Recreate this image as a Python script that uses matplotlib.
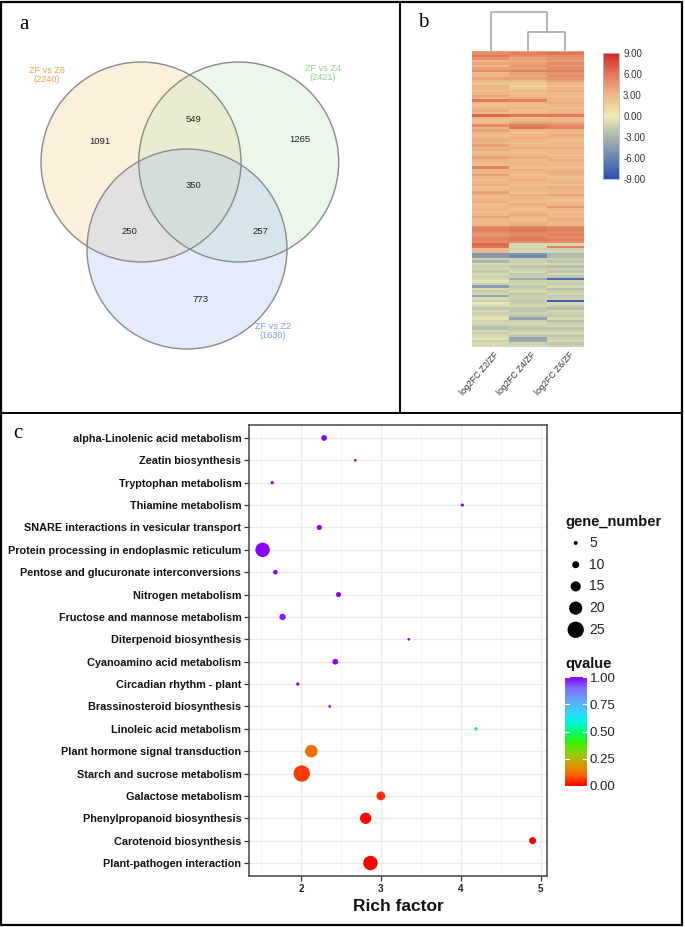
import numpy as np
import matplotlib
matplotlib.use("Agg")
import matplotlib.pyplot as plt
from matplotlib.patches import Circle, Rectangle
from matplotlib.colors import LinearSegmentedColormap, Normalize
from matplotlib.cm import ScalarMappable

plt.rcParams['font.family'] = ['Liberation Sans', 'DejaVu Sans']

# ---------------- data ----------------
# Panel a: Venn
venn_sets = ["ZF vs Z6", "ZF vs Z4", "ZF vs Z2"]
venn_totals = [2240, 2421, 1630]
venn_region_labels = ["Z6 only", "Z6&Z4", "Z4 only", "all", "Z6&Z2", "Z4&Z2", "Z2 only"]
venn_region_counts = [1091, 549, 1265, 350, 250, 257, 773]

# Panel b: heatmap (log2FC) rows top->bottom
heat_cols = ["log2FC Z2/ZF", "log2FC Z4/ZF", "log2FC Z6/ZF"]
z2 = [4, 5, 6, 5, 3, 4, 3, 4, 5, 3,
      3, 4, 3, 2, 3, 3, 2.5, 3, 4, 3,
      6, 3, 2.5, 3, 3.5, 3, 6.5, 3, 2.5, 3,
      5, 3, 4, 3, 2.5, 3, 3.5, 3, 4, 3,
      3.5, 2.5, 3, 4, 3, 3, 2.5, 5.5, 3, 3,
      4, 3, 2.5, 3, 3.5, 2.5, 3, 4, 3, 2.5,
      3, 3.5, 2.5, 3, 3, 2.5, 3, 4, 3, 3,
      3, 5, 5.5, 5, 4.5, 5, 5.5, 5, 6.5, 6,
      3, 3, -5, -4.5, -1.5, -3, -1, -1.5, -1, -2,
      -1, -1.5, -1, -0.5, -1.5, -4.5, -1, -1.5, -1, -4,
      -1, -1.5, -0.5, -1, -2, -1, -1.5, -1, -0.5, -1.5,
      -1, -2, -2.5, -1, -1.5, -1, -0.5, -1.5, -1, -1]
z4 = [4, 5.5, 5, 4, 3.5, 4, 4.5, 4, 5.5, 4,
      3.5, 4, 3, 2, 1.5, 2, 3, 2.5, 3, 3.5,
      5.5, 3, 2.5, 3, 2.5, 3, 6, 2.5, 3, 4,
      5.5, 6, 3, 2.5, 3, 3.5, 3, 2.5, 3, 3.5,
      3, 2.5, 3, 3.5, 2.5, 3, 3, 2.5, 3.5, 3,
      2.5, 3, 3.5, 3, 2.5, 3, 3, 2.5, 3.5, 3,
      3, 2.5, 3.5, 3, 2.5, 3, 3.5, 3, 2.5, 3,
      3.5, 5.5, 6, 5.5, 5, 5.5, 6, 5, -1, -1,
      -1.5, -1, -5, -5.5, -1.5, -1.5, -1, -2, -1.5, -1,
      -2, -1.5, -3.5, -1.5, -1, -2, -1.5, -1, -2, -1.5,
      -1.5, -2, -1.5, -1, -2, -2, -1.5, -2, -4, -1.5,
      -1, -1.5, -2, -1.5, -1, -2, -4, -3.5, -1.5, -1]
z6 = [4, 6, 5, 4.5, 4, 5, 4.5, 5, 5.5, 4.5,
      5, 4.5, 4, 3, 2.5, 3, 3.5, 3, 2.5, 3,
      3, 3.5, 3, 2.5, 3, 3.5, 6, 3, 3, 4,
      5, 5.5, 3, 3, 3.5, 3, 2.5, 3, 3, 3.5,
      3, 3, 2.5, 3, 3.5, 3, 3, 2.5, 3, 3.5,
      3, 2.5, 3, 3, 2.5, 3.5, 3, 3, 4, 3,
      2.5, 3, 3, 4.5, 3, 2.5, 3, 3, 3.5, 3,
      3, 5, 5.5, 5, 5.5, 5, 5.5, 5, -1, 5.5,
      -1.5, -1, -3, -2.5, -1.5, -2, -1, -2.5, -1.5, -2,
      -1, -2, -7.5, -1.5, -2, -1, -2.5, -1.5, -1, -2,
      -1.5, -8, -1, -1.5, -2.5, -1, -1.5, -2, -1, -2.5,
      -1.5, -1, -2, -1.5, -1, -2, -1.5, -1, -2, -1.5]
heat_ticks = [9, 6, 3, 0, -3, -6, -9]
dendro_heights = [0.5, 1.0]   # Z4-Z6 merge, root merge

# Panel c: KEGG enrichment
pathways = ["alpha-Linolenic acid metabolism", "Zeatin biosynthesis", "Tryptophan metabolism",
            "Thiamine metabolism", "SNARE interactions in vesicular transport",
            "Protein processing in endoplasmic reticulum", "Pentose and glucuronate interconversions",
            "Nitrogen metabolism", "Fructose and mannose metabolism", "Diterpenoid biosynthesis",
            "Cyanoamino acid metabolism", "Circadian rhythm - plant", "Brassinosteroid biosynthesis",
            "Linoleic acid metabolism", "Plant hormone signal transduction",
            "Starch and sucrose metabolism", "Galactose metabolism", "Phenylpropanoid biosynthesis",
            "Carotenoid biosynthesis", "Plant-pathogen interaction"]
rich_factor = [2.29, 2.68, 1.64, 4.02, 2.23, 1.52, 1.68, 2.47, 1.77, 3.35,
               2.43, 1.96, 2.36, 4.19, 2.13, 2.01, 3.00, 2.81, 4.90, 2.87]
gene_number = [8, 3, 4, 4, 7, 22, 6, 7, 9, 3,
               8, 4, 3, 4, 19, 25, 13, 17, 10, 22]
qvalue = [1.0, 1.0, 1.0, 1.0, 1.0, 1.0, 1.0, 1.0, 0.98, 1.0,
          1.0, 1.0, 1.0, 0.5, 0.12, 0.06, 0.05, 0.01, 0.0, 0.0]
size_levels = [5, 10, 15, 20, 25]
q_ticks = [0.0, 0.25, 0.5, 0.75, 1.0]
x_ticks = [2, 3, 4, 5]

# ---------------- figure ----------------
W, H = 685, 927
fig = plt.figure(figsize=(W / 100, H / 100), dpi=100)


def px_axes(x0, y0, x1, y1, **kw):
    return fig.add_axes([x0 / W, 1 - y1 / H, (x1 - x0) / W, (y1 - y0) / H], **kw)


PX = 0.72  # points per pixel

bg = px_axes(0, 0, W, H)
bg.set_xlim(0, W)
bg.set_ylim(H, 0)
bg.axis('off')
bg.add_patch(Rectangle((1.5, 1.5), 681, 923.5, fill=False, ec='black', lw=1.6))
bg.plot([400, 400], [1.5, 413], color='black', lw=1.4)
bg.plot([1.5, 682.5], [413, 413], color='black', lw=1.4)

serif = ['Liberation Serif', 'DejaVu Serif']
bg.text(23.5, 24, 'a', fontsize=15, family=serif, ha='center', va='center')
bg.text(423, 22, 'b', fontsize=15, family=serif, ha='center', va='center')
bg.text(18, 433, 'c', fontsize=15, family=serif, ha='center', va='center')

# ---------------- panel a: venn ----------------
va = px_axes(2, 2, 399, 412)
va.set_xlim(2, 399)
va.set_ylim(412, 2)
va.axis('off')
centers = [(141, 162), (238.7, 162), (187, 249)]
radius = 100
fills = ['#F7C77B', '#B7E3B3', '#97B3EF']
for (cx, cy), fc in zip(centers, fills):
    va.add_patch(Circle((cx, cy), radius, fc=fc, alpha=0.25, ec='none'))
for (cx, cy) in centers:
    va.add_patch(Circle((cx, cy), radius, fill=False, ec='#8a8a8a', lw=1.0))
region_pos = [(100, 141), (194, 120), (300, 140), (193, 185), (129, 232), (260, 232), (200, 300)]
for (x, y), c in zip(region_pos, venn_region_counts):
    va.text(x, y, str(c), fontsize=6.8, ha='center', va='center', color='#222222')
set_label_pos = [(47, 75), (323, 73), (273, 331)]
set_colors = ['#F2A24F', '#8ED48C', '#7E9DF0']
for (x, y), nm, tot, col in zip(set_label_pos, venn_sets, venn_totals, set_colors):
    va.text(x, y, f"{nm}\n({tot})", fontsize=6.6, ha='center', va='center', color=col,
            linespacing=1.0)

# ---------------- panel b: heatmap ----------------
heat_cmap = LinearSegmentedColormap.from_list(
    'hm', [(0.0, '#2A50B0'), (1 / 6, '#6A84B2'), (2 / 6, '#A9B5AE'), (0.5, '#F0ECB4'),
           (4 / 6, '#EEB886'), (5 / 6, '#E1785A'), (1.0, '#D42623')])
hm = px_axes(472, 51, 584, 347)
data = np.array([z2, z4, z6]).T
hm.imshow(data, cmap=heat_cmap, vmin=-9, vmax=9, aspect='auto', interpolation='nearest',
          extent=(0, 3, len(z2), 0))
hm.set_xlim(0, 3)
hm.set_ylim(len(z2), 0)
hm.axis('off')
for i, lab in enumerate(heat_cols):
    hm.text(i + 0.5 + 0.08, len(z2) + 1.2, lab, rotation=49, ha='right', va='top',
            fontsize=6.3, color='#333333', rotation_mode='anchor')

# dendrogram
dg = px_axes(472, 12, 584, 51)
dg.set_xlim(0, 3)
dg.set_ylim(0, 1.0)
dg.axis('off')
leaf = [0.5, 1.5, 2.5]
h1, h2 = dendro_heights
dcol = '#a0a0a0'
dg.plot([leaf[1], leaf[1], leaf[2], leaf[2]], [0, h1, h1, 0], color=dcol, lw=1.1, clip_on=False)
mid = (leaf[1] + leaf[2]) / 2
dg.plot([leaf[0], leaf[0], mid, mid], [0, h2, h2, h1], color=dcol, lw=1.1, clip_on=False)

hc = px_axes(603, 53, 619, 179)
cb = fig.colorbar(ScalarMappable(norm=Normalize(-9, 9), cmap=heat_cmap), cax=hc, ticks=heat_ticks)
cb.ax.set_yticklabels([f"{t:.2f}" for t in heat_ticks])
cb.ax.tick_params(length=0, labelsize=7, labelcolor='#333333', pad=3)
cb.outline.set_edgecolor('#bbbbbb')
cb.outline.set_linewidth(0.6)

# ---------------- panel c: dot plot ----------------
q_cmap = LinearSegmentedColormap.from_list(
    'q', [(0.0, '#FF0000'), (0.1, '#FF6400'), (0.2, '#D29E00'), (0.3, '#8CD200'),
          (0.4, '#36F000'), (0.5, '#00FF78'), (0.6, '#00F2E6'), (0.7, '#3CCBFF'),
          (0.8, '#6C9EFF'), (0.9, '#7D6CFF'), (1.0, '#8A00FF')])
qnorm = Normalize(0, 1)


def dot_area(n):
    d_px = 0.8 + 0.62 * np.asarray(n, dtype=float)
    return (d_px * PX) ** 2


ax = px_axes(249, 425, 547, 876)
n = len(pathways)
ypos = np.arange(n, 0, -1)
ax.scatter(rich_factor, ypos, s=dot_area(gene_number), c=qvalue, cmap=q_cmap, norm=qnorm,
           edgecolors='none', zorder=3)
ax.set_xlim(1.35, 5.08)
ax.set_ylim(0.42, n + 0.58)
ax.set_yticks(ypos)
ax.set_yticklabels(pathways, fontsize=7.85, fontweight='bold', color='#111111')
ax.set_xticks(x_ticks)
ax.set_xticklabels([str(t) for t in x_ticks], fontsize=7, fontweight='bold', color='#222222')
ax.set_xticks([1.5, 2.5, 3.5, 4.5], minor=True)
ax.tick_params(axis='both', which='major', length=3.5, width=0.9, color='#333333', pad=2)
ax.tick_params(axis='x', which='minor', length=0)
ax.grid(which='major', color='#ECECEC', lw=0.8)
ax.grid(which='minor', axis='x', color='#F4F4F4', lw=0.5)
ax.set_axisbelow(True)
for sp in ax.spines.values():
    sp.set_color('#444444')
    sp.set_linewidth(1.1)
ax.set_xlabel('Rich factor', fontsize=12.5, fontweight='bold', color='#111111', labelpad=4)

# size legend
bg.text(565, 522, 'gene_number', fontsize=10.5, fontweight='bold', ha='left', va='center',
        color='#111111')
for i, lv in enumerate(size_levels):
    yy = 543 + i * 21.7
    bg.scatter([575.7], [yy], s=dot_area(lv), color='black', edgecolors='none')
    bg.text(589, yy, str(lv), fontsize=10, ha='left', va='center', color='#222222')

# qvalue colorbar
bg.text(565, 664, 'qvalue', fontsize=10.5, fontweight='bold', ha='left', va='center',
        color='#111111')
qc = px_axes(565, 677, 587, 786)
qcb = fig.colorbar(ScalarMappable(norm=qnorm, cmap=q_cmap), cax=qc, ticks=q_ticks)
qcb.ax.set_yticklabels([f"{t:.2f}" for t in q_ticks])
qcb.ax.tick_params(length=0, labelsize=9.5, labelcolor='#222222', pad=2)
qcb.outline.set_visible(False)
for t in q_ticks:
    qc.plot([0, 0.2], [t, t], color='white', lw=0.8)
    qc.plot([0.8, 1], [t, t], color='white', lw=0.8)

fig.savefig('out.png', dpi=100)
